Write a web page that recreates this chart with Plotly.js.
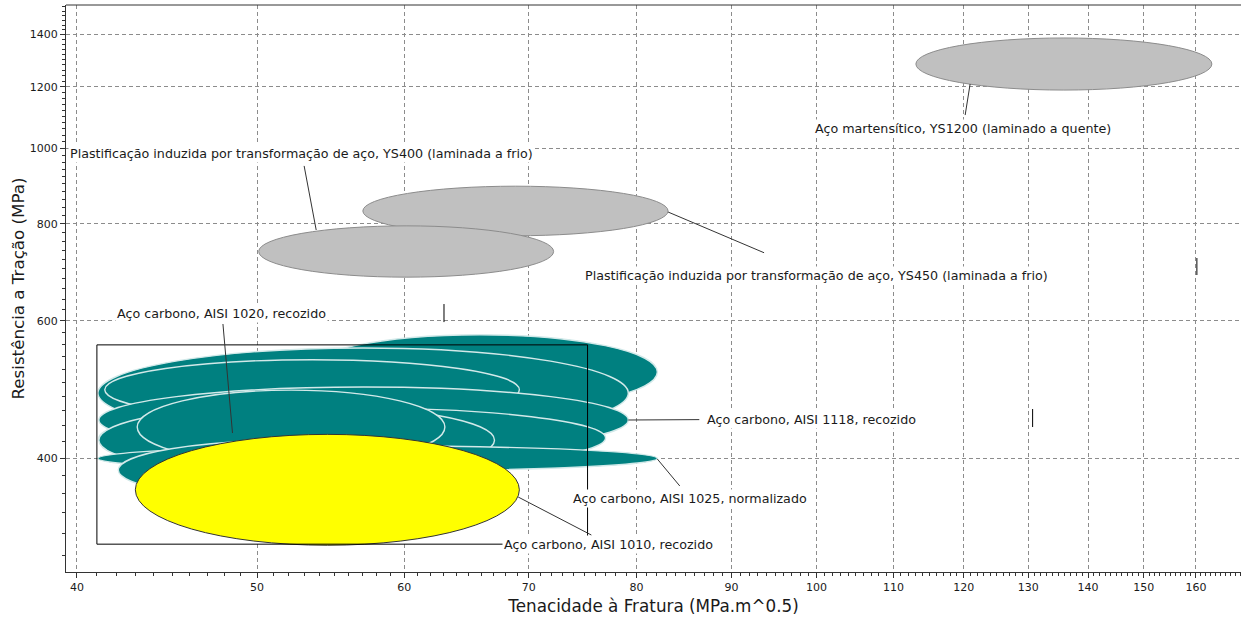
<!DOCTYPE html>
<html><head><meta charset="utf-8">
<script src="https://cdn.plot.ly/plotly-3.0.1.min.js"></script>
<style>html,body{margin:0;padding:0;background:#fff}#chart{width:1241px;height:620px}</style>
</head><body><div id="chart"></div>
<script>
// ---------- data (draw order, back to front) ----------
const materialNames = [
  'Aço carbono (a)', 'Aço carbono (b)', 'Aço carbono (c)',
  'Aço carbono, AISI 1118, recozido',
  'Aço carbono (d)', 'Aço carbono (e)',
  'Aço carbono, AISI 1020, recozido',
  'Aço carbono, AISI 1025, normalizado',
  'Aço carbono (f)',
  'Aço carbono, AISI 1010, recozido',
  'Plastificação induzida por transformação de aço, YS450 (laminada a frio)',
  'Plastificação induzida por transformação de aço, YS400 (laminada a frio)',
  'Aço martensítico, YS1200 (laminado a quente)'
];
const family = ['carbon','carbon','carbon','carbon','carbon','carbon','carbon','carbon','carbon',
  'selected','trip','trip','martensitic'];
// Fracture toughness range (MPa.m^0.5)
const toughnessLow  = [52.9, 41.05, 41.4, 41.1, 41.1, 41.1, 43.1, 41.05, 42.1, 43.0, 57.0, 50.1, 113.1];
const toughnessHigh = [82.1, 79.2, 69.2, 79.2, 77.0, 67.1, 63.1, 82.1, 65.9, 69.2, 83.2, 72.2, 163.2];
// Tensile strength range (MPa)
const strengthLow  = [462, 424, 448, 406, 388, 380, 393, 385, 353, 309, 772, 683, 1188];
const strengthHigh = [576, 554, 535, 493.5, 464, 468, 489, 414.5, 422, 429, 894, 795, 1386];

const xTickVals = [40, 50, 60, 70, 80, 90, 100, 110, 120, 130, 140, 150, 160];
const xTickText = ['40','50','60','70','80','90','100','110','120','130','140','150','160'];
const yTickVals = [400, 600, 800, 1000, 1200, 1400];
const yTickText = ['400','600','800','1000','1200','1400'];

// group box and unlabeled leader stubs
const boxToughness = [41.0, 75.3];
const boxStrength = [310, 559];
const stubToughness = [63.03, 130.7, 160.2];
const stubStrengthLow = [598, 438.4, 687.4];
const stubStrengthHigh = [630.8, 462.4, 722.8];

// ---------- styles ----------
const styleByFamily = {
  carbon: {fill: '#008080', line: '#d2e9e9', width: 1.4},
  selected: {fill: '#ffff00', line: '#333333', width: 1},
  trip: {fill: '#c0c0c0', line: '#8c8c8c', width: 1},
  martensitic: {fill: '#c0c0c0', line: '#8c8c8c', width: 1}
};

const shapes = [];
for (let i = 0; i < materialNames.length; i++) {
  const s = styleByFamily[family[i]];
  shapes.push({type: 'circle', xref: 'x', yref: 'y', layer: 'above',
    x0: toughnessLow[i], x1: toughnessHigh[i], y0: strengthLow[i], y1: strengthHigh[i],
    fillcolor: s.fill, line: {color: s.line, width: s.width}});
}
shapes.push({type: 'rect', xref: 'x', yref: 'y', layer: 'above',
  x0: boxToughness[0], x1: boxToughness[1], y0: boxStrength[0], y1: boxStrength[1],
  line: {color: '#000', width: 1}, fillcolor: 'rgba(0,0,0,0)'});
for (let i = 0; i < stubToughness.length; i++) {
  shapes.push({type: 'line', xref: 'x', yref: 'y', layer: 'above',
    x0: stubToughness[i], x1: stubToughness[i], y0: stubStrengthLow[i], y1: stubStrengthHigh[i],
    line: {color: '#000', width: 1}});
}
// top frame line
shapes.push({type: 'line', xref: 'paper', yref: 'paper', x0: 0, x1: 1, y0: 1, y1: 1,
  line: {color: '#333', width: 1}});

// labels: anchor point on bubble (data) + text offset (px)
const labels = [
  {i: 11, k: 53.8, ts: 785.3, ax: -14.5, ay: -77, gap: 4},
  {i: 12, k: 120.96, ts: 1209.5, ax: -7, ay: 44, gap: 4},
  {i: 10, k: 83.2, ts: 828.2, ax: 148.5, ay: 63, gap: 34},
  {i: 6, k: 48.5, ts: 430.7, ax: -10.5, ay: -120, gap: 2},
  {i: 3, k: 79.2, ts: 447.6, ax: 183, ay: -1, gap: 6},
  {i: 7, k: 82.1, ts: 398.8, ax: 32.5, ay: 39, gap: 4},
  {i: 9, k: 69.1, ts: 356.4, ax: 90.5, ay: 47, gap: 0}
];
const annotations = labels.map(l => ({
  x: Math.log10(l.k), y: Math.log10(l.ts), xref: 'x', yref: 'y',
  text: materialNames[l.i], showarrow: true, arrowhead: 0, arrowwidth: 1,
  arrowcolor: '#333', standoff: 0, startstandoff: l.gap, ax: l.ax, ay: l.ay,
  bgcolor: '#ffffff', borderpad: 1,
  font: {family: 'DejaVu Sans', size: 12.7, color: '#1a1a1a'}
}));

const xMinor = [];
for (let v = 39; v <= 169; v++) if (v % 10 !== 0) xMinor.push(v);
const yMinor = [];
for (let v = 300; v <= 1520; v += 20) if (v % 200 !== 0) yMinor.push(v);

const gridStyle = {color: '#8c8c8c', dash: '4px,3px'};

const layout = {
  width: 1241, height: 620,
  margin: {l: 66, r: 0, t: 5, b: 48},
  paper_bgcolor: '#fff', plot_bgcolor: '#fff',
  showlegend: false,
  font: {family: 'DejaVu Sans', color: '#1a1a1a'},
  xaxis: {
    type: 'log', range: [Math.log10(39.46), Math.log10(169.2)],
    tickmode: 'array', tickvals: xTickVals, ticktext: xTickText,
    ticks: 'outside', ticklen: 5, tickcolor: '#333',
    showline: true, linecolor: '#333', linewidth: 1,
    showgrid: true, gridcolor: gridStyle.color, griddash: gridStyle.dash, gridwidth: 1,
    zeroline: false,
    tickfont: {family: 'DejaVu Sans', size: 11, color: '#1a1a1a'},
    minor: {tickmode: 'array', tickvals: xMinor, ticks: 'outside', ticklen: 3, tickcolor: '#333', showgrid: false},
    title: {text: 'Tenacidade à Fratura (MPa.m^0.5)', font: {family: 'DejaVu Sans', size: 16.8, color: '#1a1a1a'}, standoff: 7},
    automargin: false
  },
  yaxis: {
    type: 'log', range: [Math.log10(285.5), Math.log10(1528)],
    tickmode: 'array', tickvals: yTickVals, ticktext: yTickText,
    ticks: 'outside', ticklen: 5, tickcolor: '#333',
    showline: true, linecolor: '#333', linewidth: 1,
    showgrid: true, gridcolor: gridStyle.color, griddash: gridStyle.dash, gridwidth: 1,
    zeroline: false,
    tickfont: {family: 'DejaVu Sans', size: 11, color: '#1a1a1a'},
    minor: {tickmode: 'array', tickvals: yMinor, ticks: 'outside', ticklen: 3, tickcolor: '#333', showgrid: false},
    title: {text: 'Resistência a Tração (MPa)', font: {family: 'DejaVu Sans', size: 16.7, color: '#1a1a1a'}, standoff: 0},
    automargin: false
  },
  shapes: shapes,
  annotations: annotations
};

Plotly.newPlot('chart', [], layout, {displayModeBar: false, staticPlot: true});
</script></body></html>
